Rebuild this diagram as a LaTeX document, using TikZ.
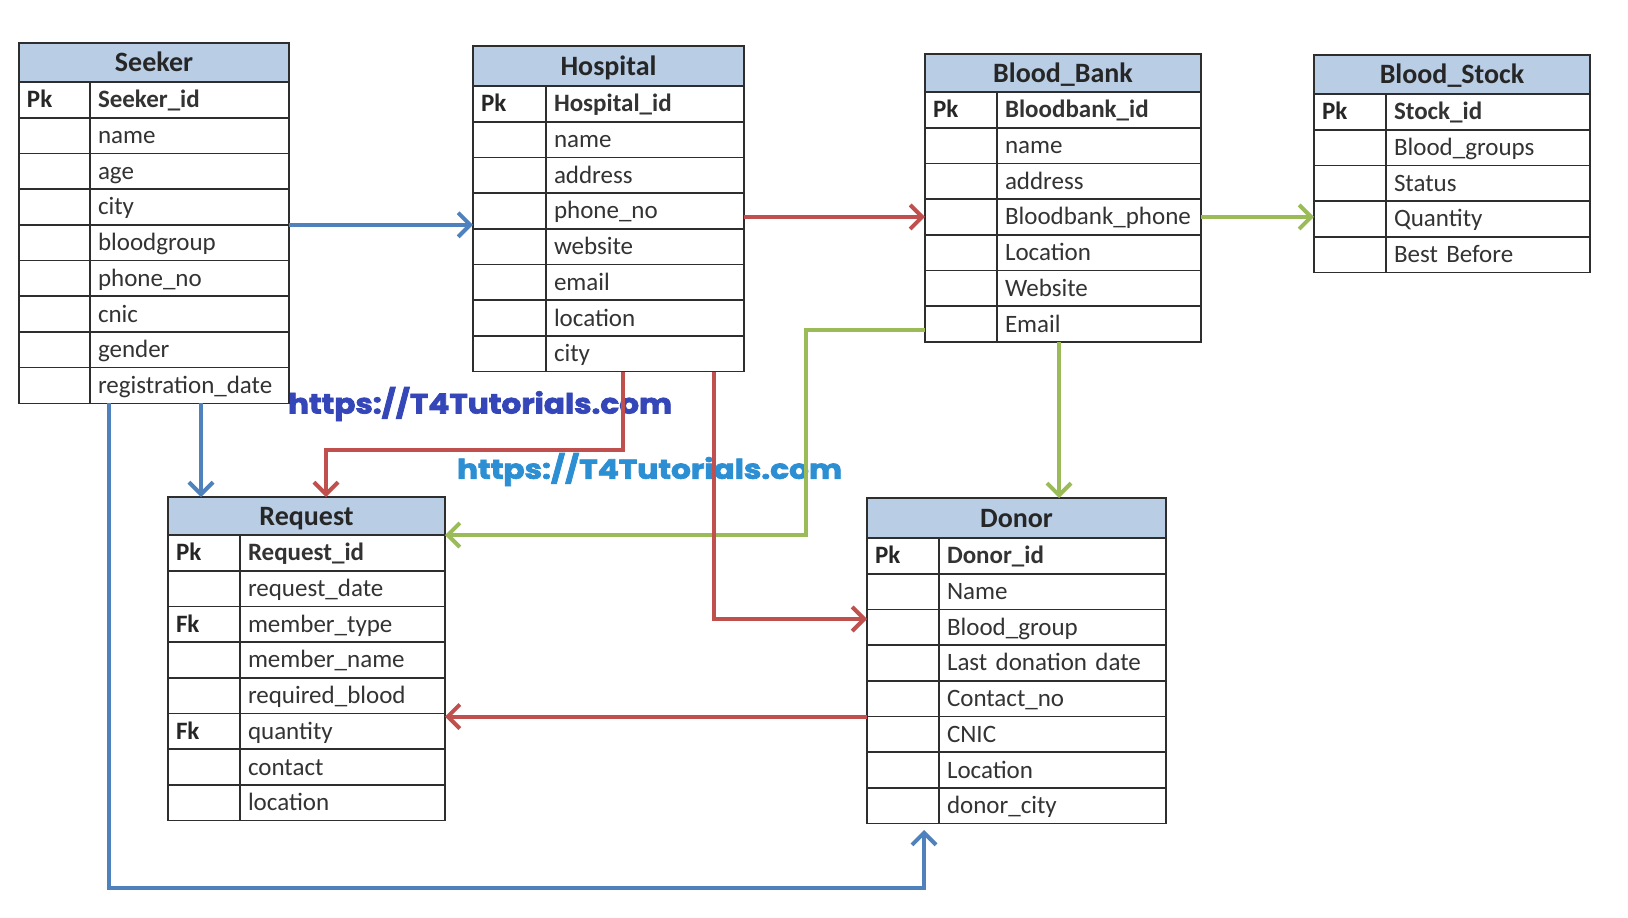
\documentclass[tikz,border=0pt]{standalone}
\usepackage{fontspec}
\setmainfont{Carlito}
\newfontfamily\wmfont{Poppins}[BoldFeatures={FakeBold=2.5}]
\usetikzlibrary{arrows.meta}

\definecolor{hdrfill}{HTML}{B9CDE5}
\definecolor{linkblue}{HTML}{4F81BD}
\definecolor{linkred}{HTML}{C0504D}
\definecolor{linkgreen}{HTML}{9BBB59}
\definecolor{cellline}{HTML}{2E2E2E}
\definecolor{celltext}{HTML}{333333}
\definecolor{wmdark}{HTML}{3446B8}
\definecolor{wmlight}{HTML}{2C8FD4}

\newcommand\rowh{35.7}

\tikzset{
  cell/.style={draw=cellline, line width=1.6pt, rectangle, outer sep=0pt,
    inner xsep=8pt, inner ysep=0pt, minimum height=\rowh pt,
    text height=20.5pt, text depth=4.5pt, align=left,
    font=\fontsize{25}{28}\selectfont, text=celltext},
  hdr/.style={cell, fill=hdrfill, align=center, text height=23pt, text depth=5pt,
    font=\fontsize{28}{30}\selectfont\bfseries, text=black!85},
  link/.style={line width=4pt, -{Straight Barb[length=12pt,width=24pt]}},
  bluelink/.style={link, draw=linkblue},
  redlink/.style={link, draw=linkred},
  greenlink/.style={link, draw=linkgreen},
  watermark/.style={inner sep=0pt, outer sep=0pt, anchor=north west, font=\wmfont\bfseries},
}

% \dbtable{id}{title}{x left}{x divider}{x right}{y top}{y header bottom}{key/field,...}
\newcommand\dbtable[8]{%
  \pgfmathsetmacro\tabw{#5-#3}%
  \pgfmathsetmacro\tabhh{#7-#6}%
  \pgfmathsetmacro\keytw{#4-#3-16}%
  \pgfmathsetmacro\fieldtw{#5-#4-16}%
  \node[hdr, minimum width=\tabw pt, minimum height=\tabhh pt, anchor=north west] (#1) at (#3,#6) {#2};
  \foreach [count=\i] \k/\f in {#8} {
    \pgfmathsetmacro\rowy{#7+(\i-1)*\rowh}
    \node[cell, text width=\keytw pt, anchor=north west, text=black!85] (#1-k\i) at (#3,\rowy) {\textbf{\k}};
    \node[cell, text width=\fieldtw pt, anchor=north west] (#1-f\i) at (#4,\rowy) {\f};
  }
}

\begin{document}
\begin{tikzpicture}[x=1pt, y=-1pt]
  \fill[white] (0,0) rectangle (1628,918);
  \useasboundingbox (0,0) rectangle (1628,918);

  % site watermarks
  \node[watermark, text=wmdark] (wm1) at (288,387)
    {\resizebox*{384pt}{34pt}{https://T4Tutorials.com}};
  \node[watermark, text=wmlight] (wm2) at (457,453)
    {\resizebox*{385pt}{33pt}{https://T4Tutorials.com}};

  % entity tables
  \dbtable{seeker}{Seeker}{19}{90}{289}{43}{82}{%
    Pk/\textbf{Seeker\_id}, /name, /age, /city, /bloodgroup, /phone\_no, /cnic, /gender, /registration\_date}
  \dbtable{hosp}{Hospital}{473}{546}{744}{46}{86}{%
    Pk/\textbf{Hospital\_id}, /name, /address, /phone\_no, /website, /email, /location, /city}
  \dbtable{bb}{Blood\_Bank}{925}{997}{1201}{54}{92}{%
    Pk/\textbf{Bloodbank\_id}, /name, /address, /Bloodbank\_phone, /Location, /Website, /Email}
  \dbtable{stock}{Blood\_Stock}{1314}{1386}{1590}{55}{94}{%
    Pk/\textbf{Stock\_id}, /Blood\_groups, /Status, /Quantity, /Best Before}
  \dbtable{req}{Request}{168}{240}{445}{497}{535}{%
    Pk/\textbf{Request\_id}, /request\_date, Fk/member\_type, /member\_name, /required\_blood, Fk/quantity, /contact, /location}
  \dbtable{donor}{Donor}{867}{939}{1166}{498}{538}{%
    Pk/\textbf{Donor\_id}, /Name, /Blood\_group, /Last donation date, /Contact\_no, /CNIC, /Location, /donor\_city}

  % bend points of the connectors
  \coordinate (gbend) at (806,0);
  \coordinate (gdown) at (1059,0);
  \coordinate (r1) at (623,450);
  \coordinate (r2) at (326,450);
  \coordinate (r3) at (714,619);
  \coordinate (b1) at (201,0);
  \coordinate (b2) at (109,888);
  \coordinate (b3) at (924,888);
  \coordinate (b4) at (924,830);

  % relationships
  \draw[bluelink] (seeker-f4.south east) -- (seeker-f4.south east -| hosp.west);
  \draw[redlink] (bb-k4.west -| hosp.east) -- (bb-k4.west);
  \draw[greenlink] (bb-f4.east) -- (bb-f4.east -| stock.west);
  \draw[greenlink] ([yshift=-6pt]bb-k7.west) -| (gbend |- req.south east) -- (req.south east);
  \draw[greenlink] (gdown |- bb-f7.south) -- (gdown |- donor.north);
  \draw[redlink] (r1 |- hosp-f8.south) -- (r1) -- (r2) -- (r2 |- req.north);
  \draw[redlink] (r3 |- hosp-f8.south) -- (r3) -- (r3 -| donor.west);
  \draw[redlink] (donor-k6.north west) -- (donor-k6.north west -| req.east);
  \draw[bluelink] (b1 |- seeker-f9.south) -- (b1 |- req.north);
  \draw[bluelink] (b2 |- seeker-k9.south) -- (b2) -- (b3) -- (b4);
\end{tikzpicture}
\end{document}
